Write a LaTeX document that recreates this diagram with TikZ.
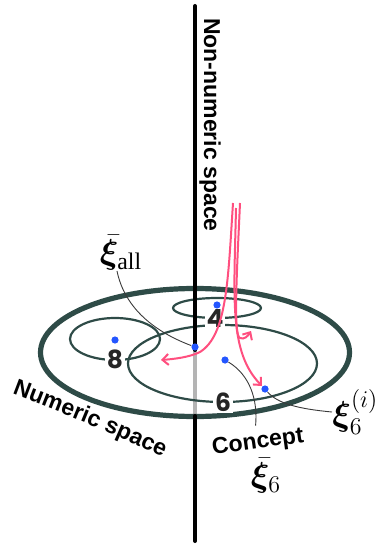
\documentclass[tikz,border=0pt]{standalone}
\usepackage{amsmath}
\usepackage{bm}
\usepackage{fontspec}
\setmainfont{Liberation Serif}
\setsansfont{Liberation Sans}
\newfontfamily\digitfont{Poppins}
\usepackage{tikz}
\usetikzlibrary{arrows.meta,decorations.text}
\definecolor{planeGreen}{HTML}{2E4B47}
\definecolor{dotBlue}{HTML}{2456FF}
\definecolor{flowPink}{HTML}{FF4F7F}
\definecolor{axisGray}{HTML}{B4B4B4}
\definecolor{leaderGray}{HTML}{3A3A3A}
\tikzset{
  axis line/.style={line width=2pt, draw=black},
  hidden axis/.style={line width=2pt, draw=axisGray},
  plane/.style={line width=2.6pt, draw=planeGreen},
  region/.style={line width=1.1pt, draw=planeGreen},
  count label/.style={fill=white, inner sep=1pt, text=black!85,
    font=\digitfont\bfseries\fontsize{12.5}{12.5}\selectfont},
  point/.style={circle, fill=dotBlue, minimum size=3.6pt, inner sep=0pt},
  flow/.style={-{Straight Barb[length=3pt, width=5.5pt]}, line width=1pt,
    draw=flowPink},
  leader/.style={line width=0.45pt, draw=leaderGray},
  space label/.style={font=\sffamily\bfseries\fontsize{11.5}{12}\selectfont},
  math label/.style={font=\fontsize{17}{19}\selectfont, inner sep=0pt}
}

\begin{document}
\begin{tikzpicture}[x=0.5pt, y=-0.5pt]
  \useasboundingbox (0,0) rectangle (375,544);
  % axis and plane
  \coordinate (axtop) at (195,6);
  \coordinate (axmid) at (195,350);
  \coordinate (axlow) at (195,416);
  \coordinate (axbot) at (195,541);
  \draw[hidden axis] (axmid) -- (axlow);
  \draw[plane] (195,352.5) ellipse [x radius=77.25pt, y radius=32pt];
  \draw[region] (217,308) ellipse [x radius=22pt, y radius=5pt];
  \draw[region] (115,339) ellipse [x radius=22.5pt, y radius=10.5pt];
  \draw[region] (222.5,363.5) ellipse [x radius=47.25pt, y radius=19.25pt];
  \node[count label] (four) at (215,318) {4};
  \node[count label] (eight) at (115,359) {8};
  \node[count label] (six) at (223,402) {6};
  \draw[axis line, line cap=round] (axtop) -- (axmid);
  \draw[axis line, line cap=round] (axlow) -- (axbot);
  \node[space label, rotate=-90] (nonnum) at (210,125) {Non-numeric space};
  \coordinate (numstart) at (12,394);
  \coordinate (numend) at (172,462);
  \path[decorate, decoration={text along path, text align=left,
    text={|\sffamily\bfseries\fontsize{11.5}{12}\selectfont|Numeric space}}]
    (numstart) .. controls (60,412) and (120,436) .. (numend);
  % flows
  \coordinate (fa) at (233,203);
  \coordinate (fb) at (240,203);
  \coordinate (fc) at (236,208);
  \coordinate (ta) at (161,360);
  \coordinate (tb) at (251,331);
  \coordinate (tc) at (262,386);
  \draw[flow] (fa) .. controls (228,280) and (227,335) .. (200,352)
    .. controls (190,357) and (175,359) .. (ta);
  \draw[flow] (fb) .. controls (237,270) and (233,336) .. (240,338)
    .. controls (244,340) and (248,336) .. (tb);
  \draw[flow] (fc) .. controls (234,300) and (229,352) .. (tc);
  % points
  \node[point] (cfour) at (217,305) {};
  \node[point] (ceight) at (115,340) {};
  \node[point] (xiall) at (195,347) {};
  \node[point] (xisix) at (225,360) {};
  \node[point] (xisixi) at (265,389) {};
  % labels
  \node[math label] (lblall) at (121,253) {$\bar{\bm{\xi}}_{\mathrm{all}}$};
  \node[space label, rotate=8] (concept) at (258,443) {Concept};
  \node[math label] (lblsix) at (266,476) {$\bar{\bm{\xi}}_{6}$};
  \node[math label, anchor=west] (lblsixi) at (332,412) {$\bm{\xi}_{6}^{(i)}$};
  \draw[leader] ([xshift=-2pt]lblall.south) .. controls (124,305) and (150,330) .. (xiall);
  \draw[leader] (xisix) .. controls (250,375) and (258,400) .. (concept.north);
  \draw[leader] (xisixi) .. controls (278,404) and (300,409) .. (lblsixi.west);
\end{tikzpicture}
\end{document}
